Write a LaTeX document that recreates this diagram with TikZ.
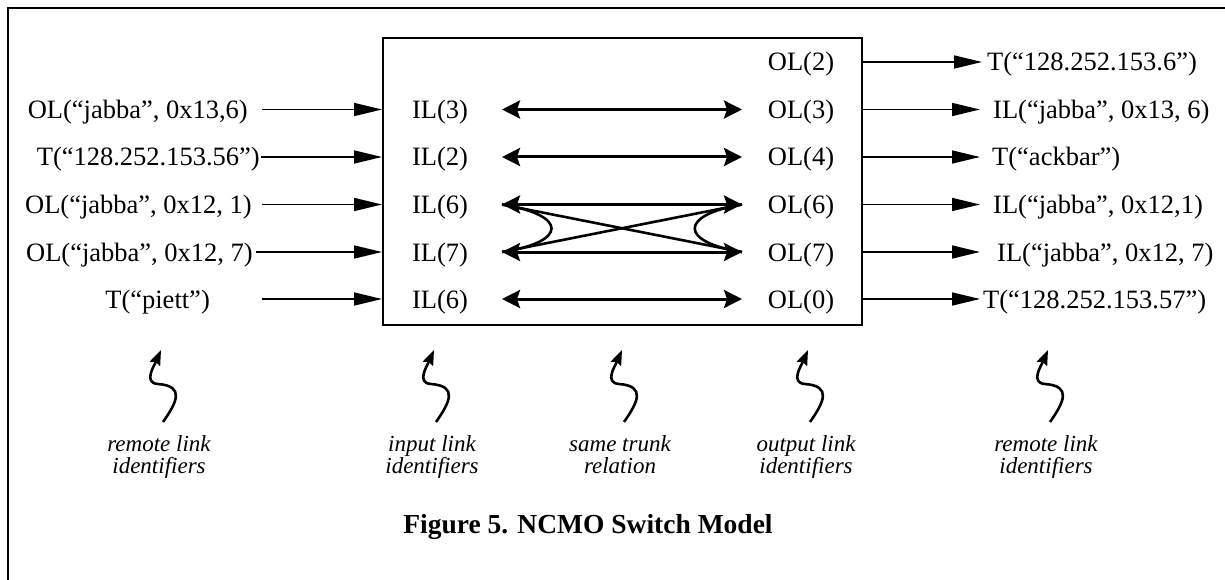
\documentclass[tikz,border=0pt]{standalone}
\usepackage{fontspec}
\setmainfont{Liberation Serif}
\usetikzlibrary{arrows.meta}
\begin{document}
\begin{tikzpicture}[x=1pt,y=-1pt,
  txt/.style={inner sep=0pt, font=\fontsize{26.5}{30}\selectfont},
  note/.style={inner sep=0pt, align=center, font=\fontsize{23}{22}\selectfont\itshape},
  linkarrow/.style={line width=1.6pt, -{Triangle[length=28pt,width=13pt]}},
  trunk/.style={line width=3pt, {Stealth[length=18pt,width=18pt,inset=3pt]}-{Stealth[length=18pt,width=18pt,inset=3pt]}},
  cross/.style={line width=2.6pt},
  squig/.style={line width=2.6pt, -{Stealth[length=15pt,width=11pt,inset=2pt]}},
  squiggle/.pic={\draw[squig] (0,0) .. controls (14,-20) and (22,-36) .. (-5,-38) .. controls (-20,-39) and (-9,-56) .. (-2,-72);}
]
\useasboundingbox (0,0) rectangle (1225,580);
% outer frame
\draw[line width=2pt] (8,580) -- (8,8) -- (1225,8);

% switch box
\node[draw, line width=1.6pt, minimum width=479pt, minimum height=287pt, inner sep=0pt, anchor=north west] (box) at (382,37) {};

% remote identifiers on the input side
\node[txt, anchor=base east] (rin1) at (248,118.5) {OL(“jabba”, 0x13,6)};
\node[txt, anchor=base east] (rin2) at (260,166) {T(“128.252.153.56”)};
\node[txt, anchor=base east] (rin3) at (252,213.5) {OL(“jabba”, 0x12, 1)};
\node[txt, anchor=base east] (rin4) at (253,261) {OL(“jabba”, 0x12, 7)};
\node[txt, anchor=base east] (rin5) at (210,308) {T(“piett”)};

\coordinate (la1) at (262,109.5);
\coordinate (la2) at (261,157);
\coordinate (la3) at (262,204.5);
\coordinate (la4) at (256,252);
\coordinate (la5) at (262,299);
\foreach \i in {1,...,5}{\draw[linkarrow] (la\i) -- (la\i -| box.west);}

% input link identifiers
\node[txt, anchor=base] (il1) at (440,118.5) {IL(3)};
\node[txt, anchor=base] (il2) at (440,166) {IL(2)};
\node[txt, anchor=base] (il3) at (440,213.5) {IL(6)};
\node[txt, anchor=base] (il4) at (440,261) {IL(7)};
\node[txt, anchor=base] (il5) at (440,308) {IL(6)};

% output link identifiers
\node[txt, anchor=base] (ol0) at (801,71) {OL(2)};
\node[txt, anchor=base] (ol1) at (801,118.5) {OL(3)};
\node[txt, anchor=base] (ol2) at (801,166) {OL(4)};
\node[txt, anchor=base] (ol3) at (801,213.5) {OL(6)};
\node[txt, anchor=base] (ol4) at (801,261) {OL(7)};
\node[txt, anchor=base] (ol5) at (801,308) {OL(0)};

% same trunk relation
\coordinate (ti1) at (502,109.5); \coordinate (to1) at (742,109.5);
\coordinate (ti2) at (502,157);   \coordinate (to2) at (742,157);
\coordinate (ti3) at (502,204.5); \coordinate (to3) at (742,204.5);
\coordinate (ti4) at (502,252);   \coordinate (to4) at (742,252);
\coordinate (ti5) at (502,299);   \coordinate (to5) at (742,299);
\draw[cross] (ti3) -- (to4);
\draw[cross] (ti4) -- (to3);
\draw[cross] (ti3) .. controls (568,215) and (568,242) .. (ti4);
\draw[cross] (to3) .. controls (679,215) and (679,242) .. (to4);
\foreach \i in {1,...,5}{\draw[trunk] (ti\i) -- (to\i);}

% remote identifiers on the output side
\coordinate (ra0) at (982,62);
\coordinate (ra1) at (980,109.5);
\coordinate (ra2) at (980,157);
\coordinate (ra3) at (980,204.5);
\coordinate (ra4) at (980,252);
\coordinate (ra5) at (980,299);
\foreach \i in {0,...,5}{\draw[linkarrow] (ra\i -| box.east) -- (ra\i);}

\node[txt, anchor=base west] (rout0) at (987,71) {T(“128.252.153.6”)};
\node[txt, anchor=base west] (rout1) at (993,118.5) {IL(“jabba”, 0x13, 6)};
\node[txt, anchor=base west] (rout2) at (992,166) {T(“ackbar”)};
\node[txt, anchor=base west] (rout3) at (993,213.5) {IL(“jabba”, 0x12,1)};
\node[txt, anchor=base west] (rout4) at (997,261) {IL(“jabba”, 0x12, 7)};
\node[txt, anchor=base west] (rout5) at (983,308) {T(“128.252.153.57”)};

% column notes with pointers (base = last line)
\node[note, anchor=base] (n1) at (159,473) {remote link\\identifiers};
\node[note, anchor=base] (n2) at (432,473) {input link\\identifiers};
\node[note, anchor=base] (n3) at (620,473) {same trunk\\relation};
\node[note, anchor=base] (n4) at (806,473) {output link\\identifiers};
\node[note, anchor=base] (n5) at (1046,473) {remote link\\identifiers};
\foreach \c in {159,432,620,806,1046}{\pic at (\c+4,422) {squiggle};}

% caption
\node[inner sep=0pt, font=\fontsize{27.5}{30}\selectfont\bfseries, anchor=base] (caption) at (588,533) {Figure 5. NCMO Switch Model};
\end{tikzpicture}
\end{document}
